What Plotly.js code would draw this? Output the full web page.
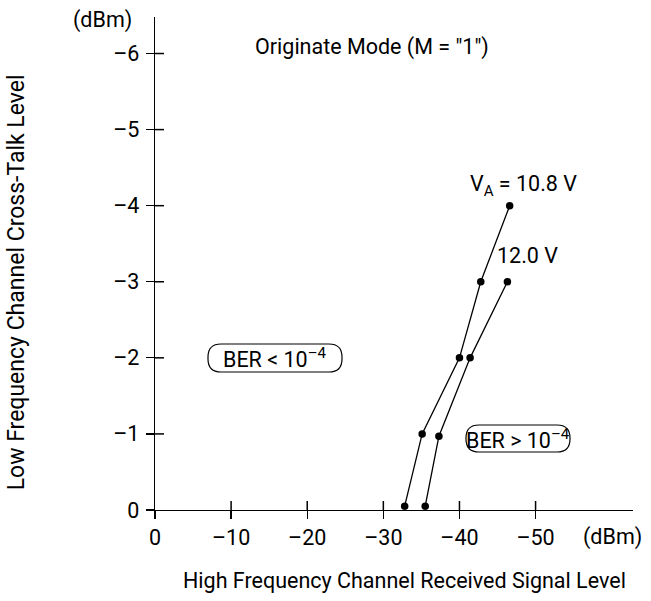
<!DOCTYPE html>
<html>
<head>
<meta charset="utf-8">
<script src="https://cdn.plot.ly/plotly-3.0.1.min.js"></script>
<style>html,body{margin:0;padding:0;background:#fff;}#chart{width:651px;height:601px;}</style>
</head>
<body>
<div id="chart"></div>
<script>
// Data
const seriesA_name = "V_A = 10.8 V";
const seriesA_x = [-32.8, -35.1, -40.0, -42.8, -46.6];
const seriesA_y = [-0.05, -1.0, -2.0, -3.0, -4.0];
const seriesB_name = "12.0 V";
const seriesB_x = [-35.5, -37.3, -41.4, -46.3];
const seriesB_y = [-0.05, -0.97, -2.0, -3.0];
const xTickVals = [0, -10, -20, -30, -40, -50];
const xTickText = ["0", "\u201310", "\u201320", "\u201330", "\u201340", "\u201350"];
const yTickVals = [0, -1, -2, -3, -4, -5, -6];
const yTickText = ["0", "\u20131", "\u20132", "\u20133", "\u20134", "\u20135", "\u20136"];

const FONT = "Roboto, 'Liberation Sans', sans-serif";
const FS = 21.5;
const xRange = [0, -62.8];
const yRange = [0, -6.48];
const TICKLEN = 8;
const INNER_TICKLEN = 9;

const lineStyle = {color: "#000", width: 1.3};
const markerStyle = {color: "#000", size: 7.5};

const traces = [
  {x: seriesA_x, y: seriesA_y, name: seriesA_name, mode: "lines+markers", line: lineStyle, marker: markerStyle, cliponaxis: false},
  {x: seriesB_x, y: seriesB_y, name: seriesB_name, mode: "lines+markers", line: lineStyle, marker: markerStyle, cliponaxis: false}
];

const axisCommon = {type: "linear", autorange: false, showgrid: false, zeroline: false, showline: true, linecolor: "#000", linewidth: 1.3,
  tickcolor: "#000", tickwidth: 1.3, ticklen: TICKLEN, fixedrange: true};

const M = {l: 155, r: 18, t: 17, b: 91};
const PW = 651 - M.l - M.r, PH = 601 - M.t - M.b;

function roundedBox(cx, cy, w, h, r) {
  const hx = w / 2 / PW, hy = h / 2 / PH, rx = r / PW, ry = r / PH;
  const x0 = cx - hx, x1 = cx + hx, y0 = cy - hy, y1 = cy + hy;
  const p = `M${x0 + rx},${y0} L${x1 - rx},${y0} Q${x1},${y0} ${x1},${y0 + ry} L${x1},${y1 - ry} Q${x1},${y1} ${x1 - rx},${y1} ` +
            `L${x0 + rx},${y1} Q${x0},${y1} ${x0},${y1 - ry} L${x0},${y0 + ry} Q${x0},${y0} ${x0 + rx},${y0} Z`;
  return {type: "path", xref: "paper", yref: "paper", path: p, line: {color: "#000", width: 1.2}};
}

// inner half of the crossing ticks (paper coordinates derived from the tick values)
function xPaper(v) { return (v - xRange[0]) / (xRange[1] - xRange[0]); }
function yPaper(v) { return (v - yRange[0]) / (yRange[1] - yRange[0]); }
const innerTicks = [];
xTickVals.slice(1).forEach(v => innerTicks.push({type: "line", xref: "paper", yref: "paper", x0: xPaper(v), x1: xPaper(v),
  y0: 0, y1: INNER_TICKLEN / PH, line: {color: "#000", width: 1.5}}));
yTickVals.slice(1).forEach(v => innerTicks.push({type: "line", xref: "paper", yref: "paper", x0: 0, x1: INNER_TICKLEN / PW,
  y0: yPaper(v), y1: yPaper(v), line: {color: "#000", width: 1.5}}));

const berLowCenter = [(275 - M.l) / PW, (510 - 358) / PH];
const berHighCenter = [(518 - M.l) / PW, (510 - 438.5) / PH];

const layout = {
  width: 651, height: 601,
  margin: M,
  paper_bgcolor: "#fff", plot_bgcolor: "#fff",
  showlegend: false,
  font: {family: FONT, size: FS, color: "#000"},
  xaxis: Object.assign({}, axisCommon, {range: xRange, tickmode: "array", tickvals: xTickVals, ticktext: xTickText,
    ticks: "outside"}),
  yaxis: Object.assign({}, axisCommon, {range: yRange, tickmode: "array", tickvals: yTickVals, ticktext: yTickText,
    ticks: "outside", ticklabelstandoff: 2}),
  shapes: innerTicks.concat([
    roundedBox(berLowCenter[0], berLowCenter[1], 134, 28, 13),
    roundedBox(berHighCenter[0], berHighCenter[1], 104, 27, 13)
  ]),
  annotations: [
    {text: "(dBm)", xref: "paper", yref: "paper", x: -0.11, y: 0.994, showarrow: false, xanchor: "center", yanchor: "middle"},
    {text: "(dBm)", xref: "paper", yref: "paper", x: 0.958, y: -0.055, showarrow: false, xanchor: "center", yanchor: "middle"},
    {text: "High Frequency Channel Received Signal Level", xref: "paper", yref: "paper", x: 0.522, y: -0.142,
      showarrow: false, xanchor: "center", yanchor: "middle"},
    {text: "Low Frequency Channel Cross-Talk Level", xref: "paper", yref: "paper", x: -0.288, y: 0.4625,
      showarrow: false, xanchor: "center", yanchor: "middle", textangle: -90, font: {size: 23}},
    {text: "Originate Mode (M = \"1\")", x: -28.5, y: -6.08, showarrow: false, xanchor: "center", yanchor: "middle"},
    {text: "V<sub>A</sub> = 10.8 V", x: -48.4, y: -4.26, showarrow: false, xanchor: "center", yanchor: "middle"},
    {text: "12.0 V", x: -49.0, y: -3.35, showarrow: false, xanchor: "center", yanchor: "middle"},
    {text: "BER < 10<sup>\u20134</sup>", xref: "paper", yref: "paper", x: berLowCenter[0], y: berLowCenter[1],
      showarrow: false, xanchor: "center", yanchor: "middle"},
    {text: "BER > 10<sup>\u20134</sup>", xref: "paper", yref: "paper", x: berHighCenter[0], y: berHighCenter[1],
      showarrow: false, xanchor: "center", yanchor: "middle"}
  ]
};

Plotly.newPlot("chart", traces, layout, {staticPlot: true});
</script>
</body>
</html>
